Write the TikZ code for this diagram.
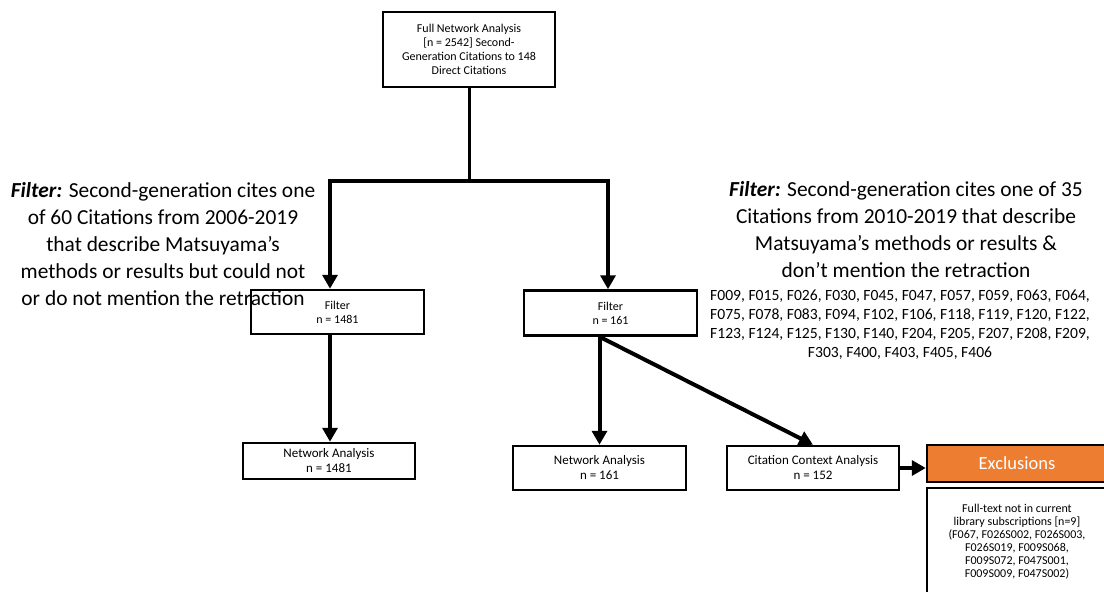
\documentclass[tikz,border=0pt]{standalone}
\usepackage{fontspec}
\setmainfont{Carlito}
\usetikzlibrary{arrows.meta}
\definecolor{exclorange}{HTML}{ED7D31}

\tikzset{
  box/.style={draw,line width=2.5pt,fill=white,align=center,inner sep=2pt,
              font=\fontsize{12}{14}\selectfont},
  orangebox/.style={draw,line width=2.5pt,fill=exclorange,text=white,
              font=\fontsize{18.5}{20}\selectfont},
  bigarrow/.style={line width=4pt,-{Triangle[width=15pt,length=14pt]}},
  plainline/.style={line width=4pt},
  note/.style={align=center,font=\fontsize{21.4}{27}\selectfont},
  codes/.style={align=center,font=\fontsize{15.6}{19}\selectfont}
}

\begin{document}
\begin{tikzpicture}[x=1pt,y=-1pt]
        \clip (0,0) rectangle (1104,592);
        \fill[white] (0,0) rectangle (1104,592);
        % boxes
        \node[box,minimum width=172pt,minimum height=75pt] (full) at (469,49.5)
            {Full Network Analysis\\{[}n = 2542{]} Second-\\Generation Citations to 148\\Direct Citations};
        \node[box,minimum width=173pt,minimum height=44pt] (filtL) at (337.5,312) {Filter\\n = 1481};
        \node[box,minimum width=173pt,minimum height=45pt] (filtR) at (610.5,313) {Filter\\n = 161};
        \node[box,font=\fontsize{13}{15}\selectfont,minimum width=172pt,minimum height=36pt] (netL)  at (329,461) {Network Analysis\\n = 1481};
        \node[box,font=\fontsize{13}{15}\selectfont,minimum width=173pt,minimum height=44pt] (netR)  at (599.5,468) {Network Analysis\\n = 161};
        \node[box,font=\fontsize{13}{15}\selectfont,minimum width=172pt,minimum height=44pt] (cca)   at (813,468) {Citation Context Analysis\\n = 152};
        \node[orangebox,minimum width=180pt,minimum height=37pt] (excl) at (1017,463.5) {Exclusions};
        \node[box,font=\fontsize{12}{13}\selectfont,minimum width=180pt,minimum height=108pt] (fulltext) at (1017,542)
            {Full-text not in current\\library subscriptions {[}n=9{]}\\(F067, F026S002, F026S003,\\F026S019, F009S068,\\F009S072, F047S001,\\F009S009, F047S002)};
        % filter notes
        \node[note] (noteL) at (163,244)
            {\textbf{\textit{Filter:}} Second-generation cites one\\of 60 Citations from 2006-2019\\that describe Matsuyama’s\\methods or results but could not\\or do not mention the retraction};
        \node[note] (noteR) at (906,230)
            {\textbf{\textit{Filter:}} Second-generation cites one of 35\\Citations from 2010-2019 that describe\\Matsuyama’s methods or results \&\\don’t mention the retraction};
        \node[codes] (codeR) at (900,325)
            {F009, F015, F026, F030, F045, F047, F057, F059, F063, F064,\\F075, F078, F083, F094, F102, F106, F118, F119, F120, F122,\\F123, F124, F125, F130, F140, F204, F205, F207, F208, F209,\\F303, F400, F403, F405, F406};
        % connectors
        \coordinate (split) at (469,181);
        \coordinate (jl) at (330,181);
        \coordinate (jr) at (608,181);
        \coordinate (fr) at (netR.north |- filtR.south);
        \draw[line width=3pt] (full.south) -- (split);
        \draw[plainline,line cap=rect] (jl) -- (jr);
        \draw[bigarrow] (jl) -- (jl |- filtL.north);
        \draw[bigarrow] (jr) -- (jr |- filtR.north);
        \draw[bigarrow] (jl |- filtL.south) -- (jl |- netL.north);
        \draw[bigarrow] (fr) -- (netR.north);
        \draw[bigarrow] (fr) -- (cca.north);
        \draw[bigarrow] (cca.east) -- (cca.east -| excl.west);
\end{tikzpicture}
\end{document}
